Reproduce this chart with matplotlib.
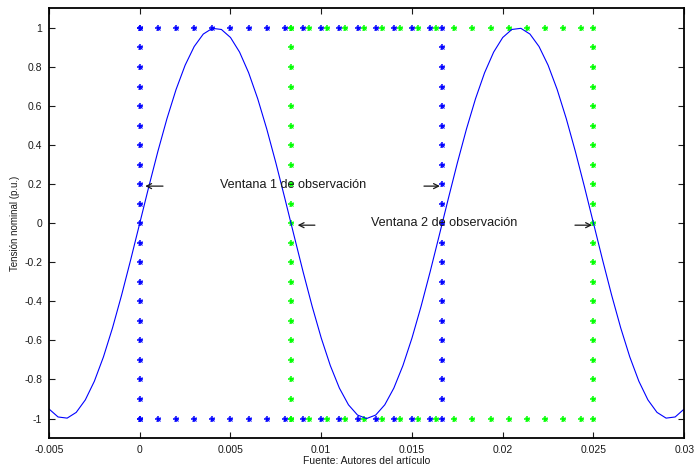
import numpy as np
import matplotlib
matplotlib.use("Agg")
import matplotlib.pyplot as plt

plt.rcParams['font.family'] = ['Liberation Sans', 'DejaVu Sans']

# Sampled nominal voltage (p.u.), one sample every 0.5 ms from -5 ms to 30 ms
t_start, t_step = -0.005, 0.0005
voltage = [
    -0.9511, -0.9921, -0.9980, -0.9686, -0.9048, -0.8090, -0.6845, -0.5358, -0.3681, -0.1874,
    0.0, 0.1874, 0.3681, 0.5358, 0.6845, 0.8090, 0.9048, 0.9686, 0.9980, 0.9921,
    0.9511, 0.8763, 0.7705, 0.6374, 0.4818, 0.3090, 0.1253, -0.0628, -0.2487, -0.4258,
    -0.5878, -0.7290, -0.8443, -0.9298, -0.9823, -1.0, -0.9823, -0.9298, -0.8443, -0.7290,
    -0.5878, -0.4258, -0.2487, -0.0628, 0.1253, 0.3090, 0.4818, 0.6374, 0.7705, 0.8763,
    0.9511, 0.9921, 0.9980, 0.9686, 0.9048, 0.8090, 0.6845, 0.5358, 0.3681, 0.1874,
    0.0, -0.1874, -0.3681, -0.5358, -0.6845, -0.8090, -0.9048, -0.9686, -0.9980, -0.9921,
    -0.9511,
]
time = t_start + t_step * np.arange(len(voltage))

# Observation windows: vertical edges and the sample grid along top/bottom edges
window1_edges = [0.0, 1 / 60]
window1_top = [0.000, 0.001, 0.002, 0.003, 0.004, 0.005, 0.006, 0.007, 0.008,
               0.009, 0.010, 0.011, 0.012, 0.013, 0.014, 0.015, 0.016]
window2_edges = [1 / 120, 0.025]
window2_top = [0.00833, 0.00933, 0.01033, 0.01133, 0.01233, 0.01333, 0.01433,
               0.01533, 0.01633, 0.01733, 0.01833, 0.01933, 0.02033, 0.02133,
               0.02233, 0.02333, 0.02433]
edge_levels = [-1.0, -0.9, -0.8, -0.7, -0.6, -0.5, -0.4, -0.3, -0.2, -0.1, 0.0,
               0.1, 0.2, 0.3, 0.4, 0.5, 0.6, 0.7, 0.8, 0.9, 1.0]

x_ticks = [-0.005, 0, 0.005, 0.01, 0.015, 0.02, 0.025, 0.03]
x_tick_labels = ['-0.005', '0', '0.005', '0.01', '0.015', '0.02', '0.025', '0.03']
y_ticks = [-1, -0.8, -0.6, -0.4, -0.2, 0, 0.2, 0.4, 0.6, 0.8, 1]
y_tick_labels = ['-1', '-0.8', '-0.6', '-0.4', '-0.2', '0', '0.2', '0.4', '0.6', '0.8', '1']

fig = plt.figure(figsize=(6.95, 4.67), dpi=100)
ax = fig.add_axes([0.0705, 0.062, 0.914, 0.920])

mk_plus = dict(linestyle='none', marker='+', markersize=5, markeredgewidth=1.1)
mk_x = dict(linestyle='none', marker='x', markersize=2.6, markeredgewidth=0.8)


def draw_points(xs, ys, color):
    ax.plot(xs, ys, color=color, **mk_plus)
    ax.plot(xs, ys, color=color, **mk_x)


def draw_window(edges, top, color):
    for xe in edges:
        draw_points([xe] * len(edge_levels), edge_levels, color)
    draw_points(top, [1.0] * len(top), color)
    draw_points(top, [-1.0] * len(top), color)


draw_window(window1_edges, window1_top, '#0000ff')
draw_window(window2_edges, window2_top, '#00ff00')

ax.plot(time, voltage, color='#0000ff', linewidth=0.8)

ax.text(0.00441, 0.194, 'Ventana 1 de observación', fontsize=9.1,
        va='center', ha='left', color='#1a1a1a')
ax.text(0.01273, 0.0, 'Ventana 2 de observación', fontsize=9.1,
        va='center', ha='left', color='#1a1a1a')

arrows = [((0.0003, 0.19), (0.00128, 0.19)),
          ((0.0087, -0.01), (0.00965, -0.01)),
          ((0.01654, 0.19), (0.01566, 0.19)),
          ((0.02492, -0.01), (0.02398, -0.01))]
for tip, tail in arrows:
    ax.annotate('', xy=tip, xytext=tail,
                arrowprops=dict(arrowstyle='->', color='#1a1a1a', lw=0.9,
                                shrinkA=0, shrinkB=0, mutation_scale=9))

ax.set_xlim(-0.005, 0.03)
ax.set_ylim(-1.1, 1.1)
ax.set_xticks(x_ticks)
ax.set_xticklabels(x_tick_labels)
ax.set_yticks(y_ticks)
ax.set_yticklabels(y_tick_labels)
ax.tick_params(direction='in', length=4, width=0.8, top=True, right=True,
               labelsize=7.5, pad=5, colors='#1a1a1a')
for s in ax.spines.values():
    s.set_linewidth(1.3)
    s.set_color('black')

ax.set_xlabel('Fuente: Autores del artículo', fontsize=7.5, labelpad=1, color='#1a1a1a')
ax.set_ylabel('Tensión nominal (p.u.)', fontsize=7, labelpad=3, color='#1a1a1a')

fig.savefig('out.png', dpi=100)
